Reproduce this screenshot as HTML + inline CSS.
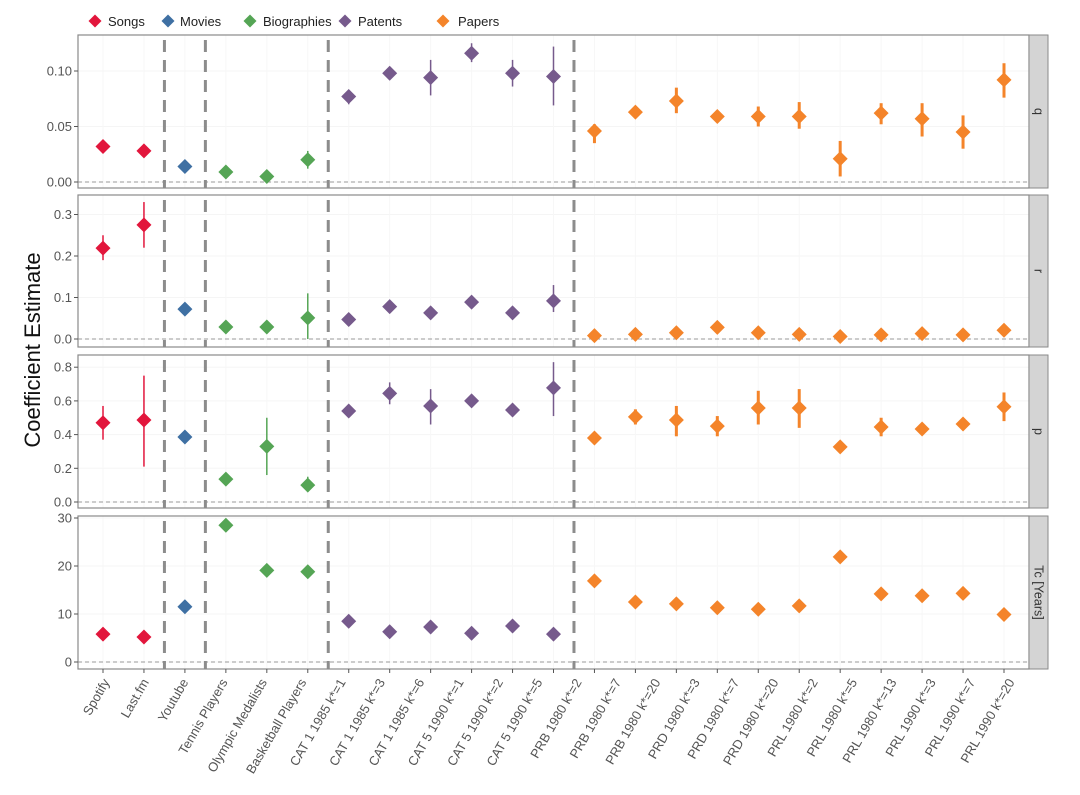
<!DOCTYPE html>
<html><head><meta charset="utf-8"><style>
body{margin:0;background:#fff;}
svg text{font-family:"Liberation Sans",sans-serif;}
</style></head><body>
<svg id="chart" width="1080" height="790" viewBox="0 0 1080 790" xmlns="http://www.w3.org/2000/svg"></svg>
<script>
// ---- data ----
const groups = ["Songs","Songs","Movies","Biographies","Biographies","Biographies","Patents","Patents","Patents","Patents","Patents","Patents","Papers","Papers","Papers","Papers","Papers","Papers","Papers","Papers","Papers","Papers","Papers"];
const tickLabels = ["Spotify","Last.fm","Youtube","Tennis Players","Olympic Medalists","Basketball Players","CAT 1 1985 k*=1","CAT 1 1985 k*=3","CAT 1 1985 k*=6","CAT 5 1990 k*=1","CAT 5 1990 k*=2","CAT 5 1990 k*=5","PRB 1980 k*=2","PRB 1980 k*=7","PRB 1980 k*=20","PRD 1980 k*=3","PRD 1980 k*=7","PRD 1980 k*=20","PRL 1980 k*=2","PRL 1980 k*=5","PRL 1980 k*=13","PRL 1990 k*=3","PRL 1990 k*=7","PRL 1990 k*=20"];
const legendNames = ["Songs","Movies","Biographies","Patents","Papers"];
const facetNames = ["q","r","p","Tc [Years]"];
const qVal = [0.032,0.028,0.014,0.009,0.005,0.020,0.077,0.098,0.094,0.116,0.098,0.095,0.046,0.063,0.073,0.059,0.059,0.059,0.021,0.062,0.057,0.045,0.092];
const qLo  = [0.030,0.026,0.012,0.007,0.003,0.012,0.070,0.092,0.078,0.108,0.086,0.069,0.035,0.058,0.062,0.054,0.050,0.048,0.005,0.052,0.041,0.030,0.076];
const qHi  = [0.034,0.030,0.016,0.011,0.007,0.028,0.083,0.104,0.110,0.125,0.110,0.122,0.052,0.068,0.085,0.064,0.068,0.072,0.037,0.071,0.071,0.060,0.107];
const rVal = [0.219,0.275,0.072,0.029,0.029,0.051,0.047,0.078,0.063,0.089,0.063,0.092,0.008,0.011,0.015,0.028,0.015,0.011,0.006,0.010,0.013,0.010,0.021];
const rLo  = [0.190,0.220,0.065,0.024,0.024,0.000,0.040,0.070,0.055,0.082,0.057,0.065,0.004,0.006,0.009,0.022,0.009,0.006,0.002,0.005,0.008,0.005,0.014];
const rHi  = [0.250,0.330,0.080,0.034,0.034,0.110,0.054,0.087,0.072,0.096,0.070,0.130,0.012,0.016,0.021,0.034,0.021,0.016,0.010,0.015,0.018,0.015,0.028];
const pVal = [0.47,0.487,0.386,0.136,0.33,0.10,0.54,0.645,0.57,0.60,0.546,0.677,0.38,0.505,0.487,0.45,0.558,0.558,0.327,0.445,0.433,0.463,0.565];
const pLo  = [0.37,0.21,0.36,0.11,0.16,0.06,0.52,0.58,0.46,0.58,0.53,0.51,0.36,0.46,0.39,0.39,0.46,0.44,0.31,0.39,0.41,0.44,0.48];
const pHi  = [0.57,0.75,0.42,0.16,0.50,0.15,0.56,0.71,0.67,0.62,0.56,0.83,0.40,0.55,0.57,0.51,0.66,0.67,0.34,0.50,0.46,0.49,0.65];
const tVal = [5.8,5.2,11.5,28.5,19.1,18.8,8.5,6.3,7.3,6.0,7.5,5.8,16.9,12.5,12.1,11.3,11.0,11.7,21.9,14.2,13.8,14.3,9.9];
const tLo  = [5.6,5.0,11.3,28.3,18.9,18.6,8.3,6.1,7.1,5.8,7.3,5.6,16.7,12.3,11.9,11.1,10.8,11.5,21.7,14.0,13.6,14.1,9.7];
const tHi  = [6.0,5.4,11.7,28.7,19.3,19.0,8.7,6.5,7.5,6.2,7.7,6.0,17.1,12.7,12.3,11.5,11.2,11.9,22.1,14.4,14.0,14.5,10.1];
const qTicks = [0,0.05,0.10], qTickText = ["0.00","0.05","0.10"];
const rTicks = [0,0.1,0.2,0.3], rTickText = ["0.0","0.1","0.2","0.3"];
const pTicks = [0,0.2,0.4,0.6,0.8], pTickText = ["0.0","0.2","0.4","0.6","0.8"];
const tTicks = [0,10,20,30], tTickText = ["0","10","20","30"];
const separators = [1.5,2.5,5.5,11.5];

// ---- layout ----
const colors = {Songs:"#e2163c",Movies:"#3f70a3",Biographies:"#55a555",Patents:"#765a8c",Papers:"#f4842a"};
const NS="http://www.w3.org/2000/svg";
const svg=document.getElementById('chart');
function el(tag,attrs,parent){const e=document.createElementNS(NS,tag);for(const k in attrs)e.setAttribute(k,attrs[k]);(parent||svg).appendChild(e);return e;}
const PL=78, PR=1029;
const x0=103, xStep=(1004-103)/22;
function xs(i){return x0+i*xStep;}
const panels=[
 {top:35,bottom:188,zeroY:182,perUnit:1110,vals:qVal,lo:qLo,hi:qHi,ticks:qTicks,tt:qTickText},
 {top:195,bottom:347,zeroY:339,perUnit:415,vals:rVal,lo:rLo,hi:rHi,ticks:rTicks,tt:rTickText},
 {top:355,bottom:508,zeroY:502,perUnit:168.5,vals:pVal,lo:pLo,hi:pHi,ticks:pTicks,tt:pTickText},
 {top:516,bottom:669,zeroY:662,perUnit:4.8,vals:tVal,lo:tLo,hi:tHi,ticks:tTicks,tt:tTickText}
];
panels.forEach((P,pi)=>{
  const ys=v=>P.zeroY-v*P.perUnit;
  const g=el('g',{});
  
  
  el('rect',{x:PL,y:P.top,width:PR-PL,height:P.bottom-P.top,fill:'#fff'},g);
  P.ticks.forEach(t=>el('line',{x1:PL,x2:PR,y1:ys(t),y2:ys(t),stroke:'#f5f5f5','stroke-width':1},g));
  for(let i=0;i<groups.length;i++) el('line',{x1:xs(i),x2:xs(i),y1:P.top,y2:P.bottom,stroke:'#f7f7f7','stroke-width':1},g);
  el('line',{x1:PL,x2:PR,y1:ys(0),y2:ys(0),stroke:'#999','stroke-width':1,'stroke-dasharray':'4 3'},g);
  separators.forEach(s=>{const xv=x0+s*xStep;const l=el('line',{x1:xv,x2:xv,y1:P.top+5,y2:P.bottom,stroke:'#8c8c8c','stroke-width':3,'stroke-dasharray':'12 8'},g);
    });
  for(let i=0;i<groups.length;i++){
    const c=colors[groups[i]], cx=xs(i), cy=ys(P.vals[i]);
    const eb=el('line',{x1:cx,x2:cx,y1:ys(P.lo[i]),y2:ys(P.hi[i]),stroke:c,'stroke-width':groups[i]==='Papers'?3:1.5},g);
    
    const d=el('polygon',{points:`${cx},${cy-7.5} ${cx+7.5},${cy} ${cx},${cy+7.5} ${cx-7.5},${cy}`,fill:c},g);
    
  }
  el('rect',{x:PL,y:P.top,width:PR-PL,height:P.bottom-P.top,fill:'none',stroke:'#8a8a8a','stroke-width':1.2},g);
  P.ticks.forEach((t,k)=>{
    el('line',{x1:PL-4,x2:PL,y1:ys(t),y2:ys(t),stroke:'#555'},g);
    const tx=el('text',{x:PL-6,y:ys(t)+4.5,'text-anchor':'end','font-size':13,fill:'#555'},g);
    tx.textContent=P.tt[k];
    
  });
  el('rect',{x:PR,y:P.top,width:19,height:P.bottom-P.top,fill:'#d4d4d4',stroke:'#8a8a8a'},g);
  const st=el('text',{x:0,y:0,'font-size':12.5,fill:'#333','text-anchor':'middle',transform:`translate(${PR+5.5},${(P.top+P.bottom)/2}) rotate(90)`},g);
  st.textContent=facetNames[pi];
  
});
for(let i=0;i<groups.length;i++) el('line',{x1:xs(i),x2:xs(i),y1:669,y2:673,stroke:'#555'});
const lStep=(1015-110)/23;
tickLabels.forEach((t,i)=>{
  const lx=110+i*lStep, ly=682;
  const tx=el('text',{x:0,y:0,'text-anchor':'end','font-size':13,fill:'#555',transform:`translate(${lx},${ly}) rotate(-60)`});
  tx.textContent=t;
  
  
});
const yt=el('text',{x:0,y:0,'text-anchor':'middle','font-size':22,fill:'#111',transform:'translate(40,350) rotate(-90)'});
yt.textContent='Coefficient Estimate';


const legX=[95,168,250,345,443];
const legTX=[108,180,263,358,458];
legendNames.forEach((n,i)=>{
  const g=el('g',{});
  
  
  const cx=legX[i], cy=21;
  el('polygon',{points:`${cx},${cy-6.5} ${cx+6.5},${cy} ${cx},${cy+6.5} ${cx-6.5},${cy}`,fill:colors[n]},g);
  const t=el('text',{x:legTX[i],y:cy+5,'font-size':13,fill:'#222'},g);t.textContent=n;
});
</script>
</body></html>
